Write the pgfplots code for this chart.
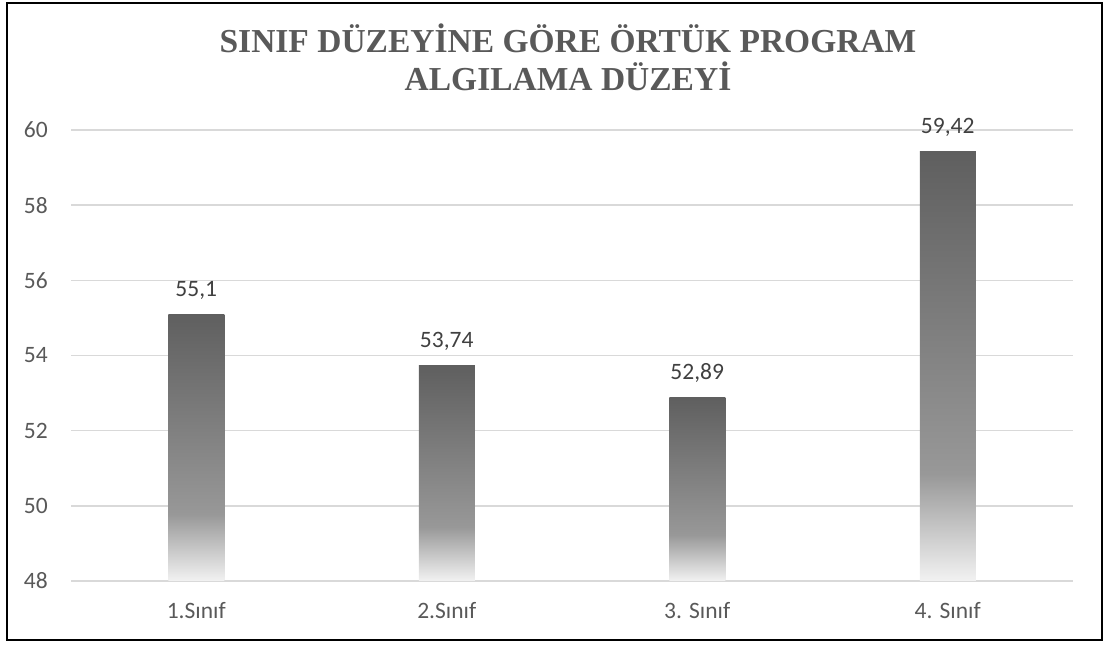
\documentclass[border=0pt]{standalone}
\usepackage{fontspec}
\setmainfont{Carlito}
\newfontfamily\titlefont{Liberation Serif}
\usepackage{pgfplots}
\pgfplotsset{compat=1.18}
\usepackage{pgfplotstable}
\definecolor{ctop}{HTML}{5F5F5F}
\definecolor{cmid}{HTML}{989898}
\definecolor{cbot}{HTML}{F2F2F2}
\definecolor{gridc}{HTML}{D9D9D9}
\definecolor{titlec}{HTML}{595959}
\definecolor{tickc}{HTML}{595959}
\definecolor{labc}{HTML}{404040}
\pgfdeclareverticalshading{barshade}{100bp}{color(0bp)=(cbot); color(25bp)=(cbot); color(37.5bp)=(cmid); color(75bp)=(ctop); color(100bp)=(ctop)}
\pgfplotstableread{
x v
0 55.1
1 53.74
2 52.89
3 59.42
}\datatable
\pgfplotsset{
  barstyle/.style={ybar, bar width=56bp, draw=none, shade, shading=barshade,
    point meta=explicit,
    nodes near coords,
    nodes near coords style={/pgf/number format/use comma, /pgf/number format/assume math mode=true},
    every node near coord/.append style={text=labc, font=\fontsize{23.5bp}{28bp}\selectfont, anchor=base, yshift=18bp, inner sep=0pt}},
}
\begin{document}
\begin{tikzpicture}[x=1bp,y=1bp]
\useasboundingbox (0,0) rectangle (1107,646);
\draw[line width=2bp] (7,5.5) rectangle (1102,642.5);
\node[anchor=base, text=titlec, inner sep=0pt, font=\titlefont\bfseries\fontsize{33.5bp}{40bp}\selectfont] at (568,593) {SINIF DÜZEYİNE GÖRE ÖRTÜK PROGRAM};
\node[anchor=base, text=titlec, inner sep=0pt, font=\titlefont\bfseries\fontsize{33.5bp}{40bp}\selectfont] at (568,555.5) {ALGILAMA DÜZEYİ};
\begin{axis}[
  at={(71bp,65bp)}, anchor=south west,
  scale only axis, width=1002bp, height=451bp,
  xmin=-0.5, xmax=3.5, ymin=0, ymax=12,
  xtick={0,1,2,3},
  xticklabels={1.Sınıf,2.Sınıf,3. Sınıf,4. Sınıf},
  ytick={0,2,...,12},
  yticklabel={\pgfmathparse{int(round(\tick+48))}\pgfmathresult},
  axis line style={draw=none},
  major tick length=0pt,
  ymajorgrids,
  grid style={gridc, line width=1.5bp},
  tick label style={font=\fontsize{23.5bp}{28bp}\selectfont, text=tickc},
  yticklabel style={anchor=east, xshift=-23bp, inner sep=0pt},
  xticklabel style={anchor=base, yshift=-38bp, inner sep=0pt},
  clip=false,
]
\addplot[barstyle] table[x=x, y expr=\thisrow{v}-48, meta=v, skip coords between index={1}{4}] {\datatable};
\addplot[barstyle] table[x=x, y expr=\thisrow{v}-48, meta=v, skip coords between index={0}{1}, skip coords between index={2}{4}] {\datatable};
\addplot[barstyle] table[x=x, y expr=\thisrow{v}-48, meta=v, skip coords between index={0}{2}, skip coords between index={3}{4}] {\datatable};
\addplot[barstyle] table[x=x, y expr=\thisrow{v}-48, meta=v, skip coords between index={0}{3}] {\datatable};
\end{axis}
\end{tikzpicture}
\end{document}
